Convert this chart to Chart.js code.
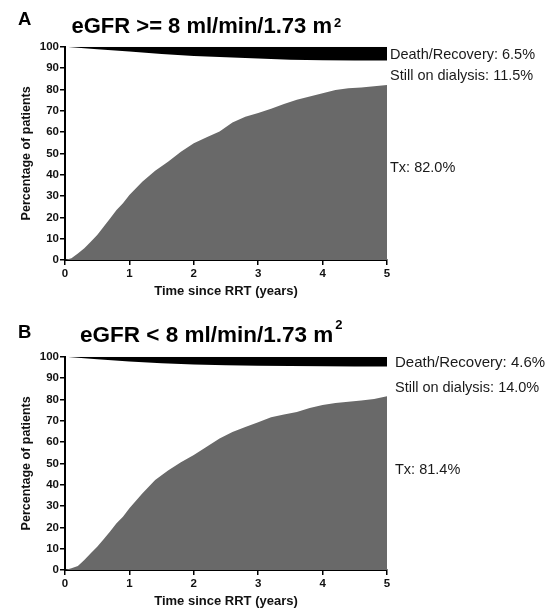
<!DOCTYPE html>
<html>
<head>
<meta charset="utf-8">
<script src="https://cdn.jsdelivr.net/npm/chart.js@4"></script>
<style>
  html, body { margin: 0; padding: 0; background: #fff; overflow: hidden; }
  body { width: 545px; height: 609px; position: relative; }
  canvas { position: absolute; left: 0; }
  #chartA { top: 0; }
  #chartB { top: 310px; }
</style>
</head>
<body>
<canvas id="chartA" width="545" height="300"></canvas>
<canvas id="chartB" width="545" height="300"></canvas>
<script>
// time points (years since RRT)
const yearsTx = [0, 0.1, 0.2, 0.3, 0.4, 0.5, 0.6, 0.7, 0.8, 0.9, 1.0, 1.2, 1.4, 1.6, 1.8, 2.0,
  2.2, 2.4, 2.6, 2.8, 3.0, 3.2, 3.4, 3.6, 3.8, 4.0, 4.2, 4.4, 4.6, 4.8, 5.0];
const yearsDeath = [0, 0.5, 1, 1.5, 2, 2.5, 3, 3.5, 4, 4.5, 5];

// Panel A: eGFR >= 8 (cumulative %)
const txA = [0, 0.8, 3.1, 5.5, 8.6, 11.7, 15.6, 19.5, 23.4, 26.6, 30.5, 36.7, 41.9, 46.1, 50.8, 54.7,
  57.5, 60.2, 64.5, 67.2, 68.9, 70.9, 73.1, 75.1, 76.7, 78.2, 79.7, 80.5, 80.9, 81.5, 82.0];
// lower edge of the death/recovery band (100 - cumulative death/recovery)
const deathEdgeA = [100, 98.8, 97.7, 96.6, 95.6, 95.0, 94.5, 93.9, 93.6, 93.5, 93.5];

// Panel B: eGFR < 8
const txB = [0, 0.8, 1.9, 4.7, 7.8, 10.9, 14.4, 18.0, 21.9, 25.0, 28.9, 35.9, 42.2, 46.6, 50.5, 53.9,
  57.8, 61.7, 64.7, 67.0, 69.3, 71.6, 72.9, 74.1, 75.9, 77.3, 78.3, 78.9, 79.5, 80.2, 81.4];
const deathEdgeB = [100, 98.8, 97.7, 96.9, 96.4, 96.0, 95.7, 95.6, 95.5, 95.4, 95.4];

const titleA = 'eGFR >= 8 ml/min/1.73 m';
const titleB = 'eGFR < 8 ml/min/1.73 m';
const labelsA = ['Death/Recovery: 6.5%', 'Still on dialysis: 11.5%', 'Tx: 82.0%'];
const labelsB = ['Death/Recovery: 4.6%', 'Still on dialysis: 14.0%', 'Tx: 81.4%'];

const FONT = '"Liberation Sans", Arial, sans-serif';

// draws panel letter, title with superscript and the end-of-curve labels
const panelText = {
  id: 'panelText',
  afterDraw(chart, args, o) {
    const c = chart.ctx;
    c.save();
    c.textBaseline = 'alphabetic';
    c.textAlign = 'left';
    c.fillStyle = '#000';
    c.font = 'bold 18.5px ' + FONT;
    c.fillText(o.letter, 18, o.letterY);
    c.font = 'bold ' + o.titleSize + 'px ' + FONT;
    c.fillText(o.title, o.titleX, o.titleY);
    const w = c.measureText(o.title).width;
    c.font = 'bold 13px ' + FONT;
    c.fillText('2', o.titleX + w + 2, o.supY);
    c.fillStyle = '#1a1a1a';
    o.labels.forEach(l => {
      c.font = l.size + 'px ' + FONT;
      c.fillText(l.text, l.x, l.y);
    });
    c.restore();
  }
};

function makeChart(id, tx, deathEdge, textOpts) {
  return new Chart(document.getElementById(id), {
    type: 'line',
    data: {
      datasets: [
        {
          label: 'Death/Recovery',
          data: yearsDeath.map((t, i) => ({ x: t, y: deathEdge[i] })),
          fill: 'end',
          backgroundColor: '#000',
          borderWidth: 0,
          pointRadius: 0
        },
        {
          label: 'Tx',
          data: yearsTx.map((t, i) => ({ x: t, y: tx[i] })),
          fill: 'origin',
          backgroundColor: '#696969',
          borderWidth: 0,
          pointRadius: 0
        }
      ]
    },
    options: {
      responsive: false,
      animation: false,
      layout: { padding: { top: 46.7, right: 158, left: 0, bottom: 0 } },
      plugins: {
        legend: { display: false },
        tooltip: { enabled: false },
        panelText: textOpts
      },
      scales: {
        x: {
          type: 'linear',
          min: 0,
          max: 5,
          z: 1,
          afterFit: (s) => { s.height = 40; },
          ticks: {
            stepSize: 1,
            color: '#111',
            padding: 2,
            font: { family: FONT, size: 11.5, weight: 'bold' }
          },
          grid: { drawOnChartArea: false, drawTicks: true, tickLength: 5, color: '#000', lineWidth: 1.5 },
          border: { color: '#000', width: 2 },
          title: {
            display: true,
            text: 'Time since RRT (years)',
            color: '#111',
            padding: { top: 0, bottom: 0.5 },
            font: { family: FONT, size: 13, weight: 'bold' }
          }
        },
        y: {
          min: 0,
          max: 100,
          z: 1,
          afterFit: (s) => { s.width = 65; },
          ticks: {
            stepSize: 10,
            color: '#111',
            padding: 1,
            font: { family: FONT, size: 11.5, weight: 'bold' }
          },
          grid: { drawOnChartArea: false, drawTicks: true, tickLength: 5, color: '#000', lineWidth: 1.5 },
          border: { color: '#000', width: 2 },
          title: {
            display: true,
            text: 'Percentage of patients',
            color: '#111',
            padding: { top: 19.5, bottom: 0 },
            font: { family: FONT, size: 12.5, weight: 'bold' }
          }
        }
      }
    },
    plugins: [panelText]
  });
}

makeChart('chartA', txA, deathEdgeA, {
  letter: 'A', letterY: 25,
  title: titleA, titleX: 71.5, titleY: 33.3, titleSize: 22, supY: 26.7,
  labels: [
    { text: labelsA[0], x: 390, y: 59.2, size: 14.5 },
    { text: labelsA[1], x: 390, y: 80.2, size: 14.5 },
    { text: labelsA[2], x: 390, y: 171.9, size: 14.5 }
  ]
});

makeChart('chartB', txB, deathEdgeB, {
  letter: 'B', letterY: 28.3,
  title: titleB, titleX: 80, titleY: 31.7, titleSize: 22.5, supY: 19,
  labels: [
    { text: labelsB[0], x: 395, y: 56.9, size: 15 },
    { text: labelsB[1], x: 395, y: 81.9, size: 14.5 },
    { text: labelsB[2], x: 395, y: 163.5, size: 14.5 }
  ]
});
</script>
</body>
</html>
